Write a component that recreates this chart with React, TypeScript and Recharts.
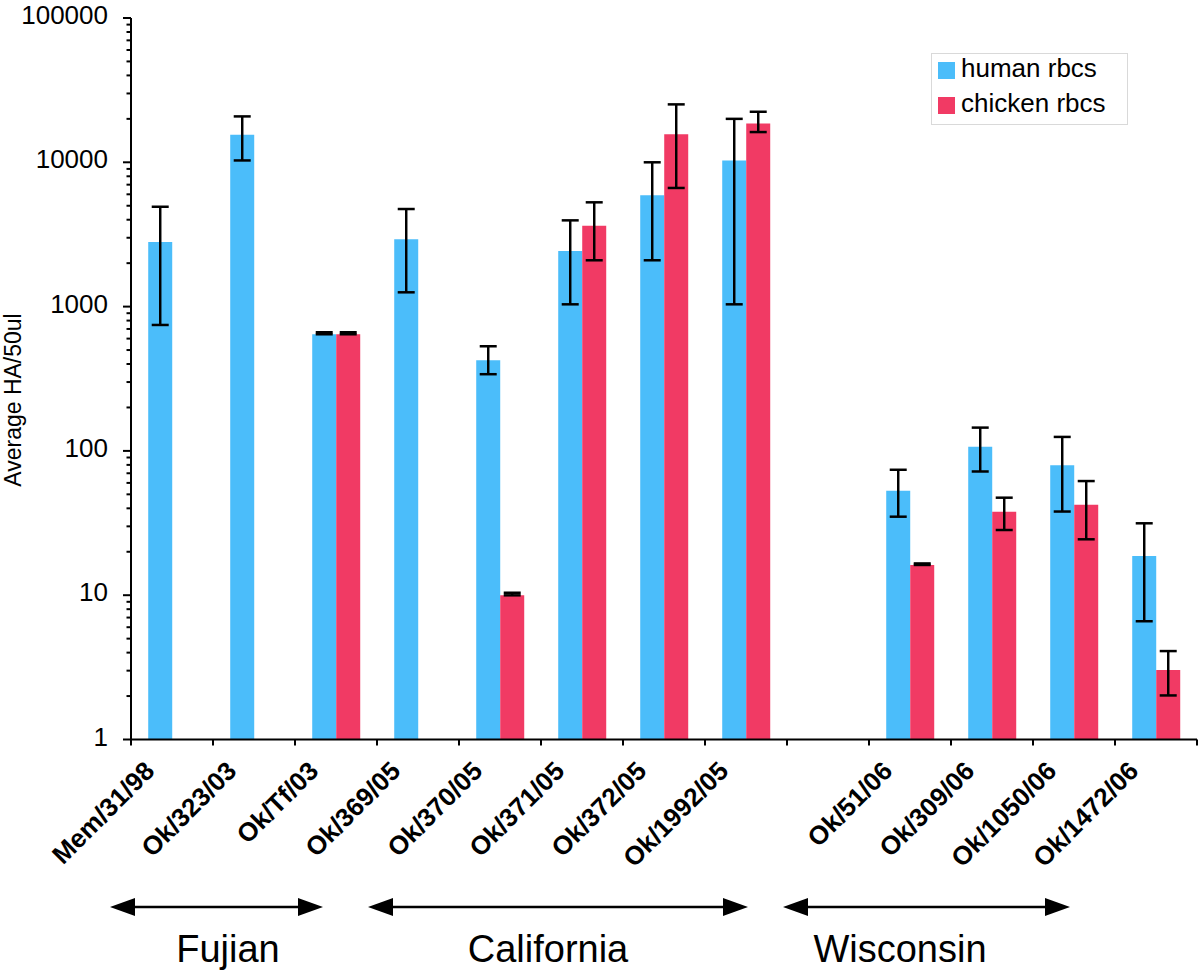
import React from 'react';
import { ComposedChart, Bar, XAxis, YAxis, ErrorBar, Legend } from 'recharts';

// ---- data ----
const categories = ['Mem/31/98', 'Ok/323/03', 'Ok/Tf/03', 'Ok/369/05', 'Ok/370/05', 'Ok/371/05', 'Ok/372/05', 'Ok/1992/05', '', 'Ok/51/06', 'Ok/309/06', 'Ok/1050/06', 'Ok/1472/06'];
const human: (number | null)[] = [2800, 15500, 643, 2930, 425, 2430, 5900, 10300, null, 53, 107, 79.5, 18.7];
const humanLow: (number | null)[] = [746, 10300, 643, 1256, 340, 1037, 2094, 1037, null, 35, 72, 38, 6.6];
const humanHigh: (number | null)[] = [4920, 20800, 664, 4745, 531, 3960, 10000, 20000, null, 74, 145, 125, 31.5];
const chicken: (number | null)[] = [null, null, 643, null, 9.98, 3640, 15630, 18600, null, 16.2, 37.9, 42.4, 3.03];
const chickenLow: (number | null)[] = [null, null, 643, null, 9.98, 2094, 6640, 16200, null, 16.2, 28.3, 24.4, 2.02];
const chickenHigh: (number | null)[] = [null, null, 664, null, 10.4, 5280, 25200, 22400, null, 16.6, 47.4, 61.8, 4.1];
const seriesNames = ['human rbcs', 'chicken rbcs'];
const yTicks: number[] = [
  1, 2, 3, 4, 5, 6, 7, 8, 9,
  10, 20, 30, 40, 50, 60, 70, 80, 90,
  100, 200, 300, 400, 500, 600, 700, 800, 900,
  1000, 2000, 3000, 4000, 5000, 6000, 7000, 8000, 9000,
  10000, 20000, 30000, 40000, 50000, 60000, 70000, 80000, 90000,
  100000,
];
const groupNames = ['Fujian', 'California', 'Wisconsin'];

// ---- style / layout ----
const BLUE = '#4BBDFA';
const RED = '#F13A64';
const FONT = '"Liberation Sans", Arial, Helvetica, sans-serif';
const W = 1200;
const H = 977;
const PLOT_LEFT = 131;
const PLOT_RIGHT = 1197;
const BAND = (PLOT_RIGHT - PLOT_LEFT) / categories.length;

const groupArrows = [
  { x1: 110, x2: 323, tx: 228 },
  { x1: 368, x2: 748, tx: 548 },
  { x1: 783, x2: 1070, tx: 900 },
];
const ARROW_Y = 907;

const data = categories.map((c, i) => ({
  name: c,
  human: human[i],
  chicken: chicken[i],
  hErr: human[i] == null ? null : [(human[i] as number) - (humanLow[i] as number), (humanHigh[i] as number) - (human[i] as number)],
  cErr: chicken[i] == null ? null : [(chicken[i] as number) - (chickenLow[i] as number), (chickenHigh[i] as number) - (chicken[i] as number)],
}));

const XTick = (props: any) => {
  const { x, y, payload, index } = props;
  const half = BAND / 2;
  return (
    <g>
      <line x1={x - half} y1={y} x2={x - half} y2={y + 6} stroke="#000" strokeWidth={2} />
      {index === categories.length - 1 && (
        <line x1={x + half} y1={y} x2={x + half} y2={y + 6} stroke="#000" strokeWidth={2} />
      )}
      <text
        transform={`translate(${x - 16},${y + 33}) rotate(-45)`}
        textAnchor="end"
        fontSize={26}
        fontWeight="bold"
        fontFamily={FONT}
        fill="#000"
      >
        {payload.value}
      </text>
    </g>
  );
};

const YTick = (props: any) => {
  const { x, y, payload } = props;
  const v = payload.value as number;
  const lg = Math.log10(v);
  const major = Math.abs(lg - Math.round(lg)) < 1e-9;
  return (
    <g>
      <line x1={x - (major ? 8 : 4.5)} y1={y} x2={x} y2={y} stroke="#000" strokeWidth={2} />
      {major && (
        <text x={x - 23} y={y + 6} textAnchor="end" fontSize={26} fontFamily={FONT} fill="#000">
          {String(v)}
        </text>
      )}
    </g>
  );
};

const LegendBox = () => (
  <svg width={197} height={72} style={{ display: 'block' }}>
    <rect x={0.5} y={0.5} width={196} height={71} fill="#fff" stroke="#d9d9d9" strokeWidth={1} />
    <rect x={7} y={9} width={17} height={17} fill={BLUE} />
    <text x={30} y={24} fontSize={26} fontFamily={FONT} fill="#000">{seriesNames[0]}</text>
    <rect x={7} y={44} width={17} height={17} fill={RED} />
    <text x={30} y={59} fontSize={26} fontFamily={FONT} fill="#000">{seriesNames[1]}</text>
  </svg>
);

export default function App() {
  return (
    <div style={{ position: 'absolute', left: 0, top: 0, width: W, height: H, background: '#fff' }}>
      <ComposedChart
        width={W}
        height={H}
        data={data}
        margin={{ top: 18, right: W - PLOT_RIGHT, bottom: 197.5, left: 0 }}
        barCategoryGap="21%"
        barGap={0}
      >
        <XAxis
          dataKey="name"
          interval={0}
          tickLine={false}
          tickSize={0}
          tickMargin={0}
          height={40}
          axisLine={{ stroke: '#000', strokeWidth: 2 }}
          tick={<XTick />}
        />
        <YAxis
          scale="log"
          domain={[1, 100000]}
          allowDataOverflow
          ticks={yTicks}
          interval={0}
          width={PLOT_LEFT}
          tickLine={false}
          tickSize={0}
          tickMargin={0}
          axisLine={{ stroke: '#000', strokeWidth: 2 }}
          tick={<YTick />}
          label={{
            value: 'Average HA/50ul',
            angle: -90,
            position: 'insideLeft',
            offset: 0,
            content: () => (
              <text
                transform={`translate(21,400) rotate(-90)`}
                textAnchor="middle"
                fontSize={23}
                fontFamily={FONT}
                fill="#000"
              >
                Average HA/50ul
              </text>
            ),
          }}
        />
        <Legend
          layout="vertical"
          align="center"
          verticalAlign="middle"
          wrapperStyle={{ position: 'absolute', left: 931, top: 53, width: 197, height: 72 }}
          content={() => <LegendBox />}
        />
        <Bar dataKey="human" name={seriesNames[0]} fill={BLUE} isAnimationActive={false}>
          <ErrorBar dataKey="hErr" width={8.5} strokeWidth={2.5} stroke="#000" direction="y" isAnimationActive={false} />
        </Bar>
        <Bar dataKey="chicken" name={seriesNames[1]} fill={RED} isAnimationActive={false}>
          <ErrorBar dataKey="cErr" width={8.5} strokeWidth={2.5} stroke="#000" direction="y" isAnimationActive={false} />
        </Bar>
      </ComposedChart>
      <svg
        width={W}
        height={H}
        style={{ position: 'absolute', left: 0, top: 0, pointerEvents: 'none' }}
      >
        {groupArrows.map((g, i) => (
          <g key={i}>
            <line x1={g.x1 + 20} y1={ARROW_Y} x2={g.x2 - 20} y2={ARROW_Y} stroke="#000" strokeWidth={2.5} />
            <polygon points={`${g.x1},${ARROW_Y} ${g.x1 + 25},${ARROW_Y - 9} ${g.x1 + 25},${ARROW_Y + 9}`} fill="#000" />
            <polygon points={`${g.x2},${ARROW_Y} ${g.x2 - 25},${ARROW_Y - 9} ${g.x2 - 25},${ARROW_Y + 9}`} fill="#000" />
            <text x={g.tx} y={962} textAnchor="middle" fontSize={38} fontFamily={FONT} fill="#000">
              {groupNames[i]}
            </text>
          </g>
        ))}
      </svg>
    </div>
  );
}
